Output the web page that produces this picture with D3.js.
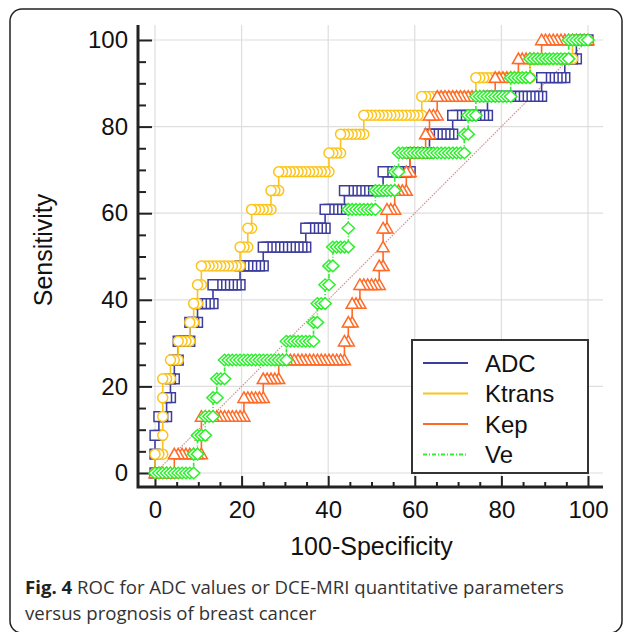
<!DOCTYPE html>
<html>
<head>
<meta charset="utf-8">
<script src="https://cdn.jsdelivr.net/npm/d3@7"></script>
<style>
  body { margin: 0; background: #fff; }
  svg { display: block; }
</style>
</head>
<body>
<div id="chart"></div>
<script>
// sensitivity steps (23 positive cases)
const sensitivity = [0, 4.35, 8.70, 13.04, 17.39, 21.74, 26.09, 30.43, 34.78, 39.13, 43.48, 47.83,
  52.17, 56.52, 60.87, 65.22, 69.57, 73.91, 78.26, 82.61, 86.96, 91.30, 95.65, 100];

// 100-specificity where each sensitivity step is reached
const adcX    = [0, 0, 0, 1.0, 2.9, 3.8, 4.8, 5.7, 7.6, 9.5, 13.8, 19.5, 24.8, 35.2, 39.0, 43.8, 52.4, 59.0, 63.8, 68.6, 77.1, 89.5, 94.3, 97.1];
const ktransX = [0, 0, 1.9, 1.9, 1.9, 1.9, 3.8, 5.7, 7.6, 8.6, 9.5, 10.5, 19.6, 21.0, 21.9, 26.7, 28.6, 40.0, 42.9, 48.6, 61.9, 74.3, 86.7, 96.2];
const kepX    = [0, 4.3, 10.5, 10.5, 20.2, 24.8, 28.6, 43.8, 44.8, 45.7, 47.6, 51.4, 52.4, 52.4, 53.3, 55.2, 58.1, 59.0, 62.9, 63.8, 64.8, 79.0, 84.0, 89.5];
const veX     = [0, 8.6, 9.5, 11.4, 13.3, 14.3, 16.2, 30.5, 36.2, 37.1, 39.0, 40.0, 41.0, 44.8, 44.8, 50.5, 55.2, 56.2, 71.4, 72.4, 74.3, 81.9, 86.7, 95.2];
const negatives = 112;

const seriesNames = ["ADC", "Ktrans", "Kep", "Ve"];
const xTicks = [0, 20, 40, 60, 80, 100];
const yTicks = [0, 20, 40, 60, 80, 100];

const width = 627, height = 632;
const svg = d3.select("#chart").append("svg")
  .attr("width", width)
  .attr("height", height);

// outer rounded frame
svg.append("rect")
  .attr("x", 10).attr("y", 9)
  .attr("width", 612).attr("height", 624)
  .attr("rx", 12)
  .attr("fill", "none")
  .attr("stroke", "#222")
  .attr("stroke-width", 1.5);

const plotLeft = 138, plotRight = 603, plotTop = 25, plotBottom = 487;
const x = d3.scaleLinear().domain([0, 100]).range([155, 588]);
const y = d3.scaleLinear().domain([0, 100]).range([473, 40]);

const font = "Arial, 'Liberation Sans', Helvetica, sans-serif";

// grid
const grid = svg.append("g").attr("stroke", "#dedede").attr("stroke-width", 1.2);
grid.selectAll(".gv").data(xTicks).join("line")
  .attr("x1", d => x(d)).attr("x2", d => x(d))
  .attr("y1", plotTop).attr("y2", plotBottom);
grid.selectAll(".gh").data(yTicks).join("line")
  .attr("x1", plotLeft).attr("x2", plotRight)
  .attr("y1", d => y(d)).attr("y2", d => y(d));

// reference diagonal
svg.append("line")
  .attr("x1", x(0)).attr("y1", y(0))
  .attr("x2", x(100)).attr("y2", y(100))
  .attr("stroke", "#d08a8a")
  .attr("stroke-width", 1.1)
  .attr("stroke-dasharray", "1.5,1.2");

// axes
const minorY = y.ticks(20).filter(d => d % 20 !== 0);
const minorX = x.ticks(20).filter(d => d % 20 !== 0);

const yMinorG = svg.append("g").attr("transform", `translate(${plotLeft},0)`)
  .call(d3.axisLeft(y).tickValues(minorY).tickSize(-8).tickFormat(""));
const yMajorG = svg.append("g").attr("transform", `translate(${plotLeft},0)`)
  .call(d3.axisLeft(y).tickValues(yTicks).tickSize(-14).tickPadding(10));
const xMinorG = svg.append("g").attr("transform", `translate(0,${plotBottom})`)
  .call(d3.axisBottom(x).tickValues(minorX).tickSize(-5).tickFormat(""));
const xMajorG = svg.append("g").attr("transform", `translate(0,${plotBottom})`)
  .call(d3.axisBottom(x).tickValues(xTicks).tickSize(-11).tickPadding(14));

[yMinorG, yMajorG, xMinorG, xMajorG].forEach(g => {
  g.attr("font-family", font);
  g.select(".domain").remove();
  g.selectAll(".tick line").attr("stroke", "#222").attr("stroke-width", 2);
  g.selectAll(".tick text")
    .attr("font-size", 24)
    .attr("fill", "#111");
});

svg.append("path")
  .attr("d", `M${plotLeft},${plotTop}V${plotBottom}H${plotRight}`)
  .attr("fill", "none")
  .attr("stroke", "#222")
  .attr("stroke-width", 3);

// axis titles
svg.append("text")
  .attr("x", x(50)).attr("y", 555)
  .attr("text-anchor", "middle")
  .attr("font-family", font)
  .attr("font-size", 25)
  .attr("fill", "#111")
  .text("100-Specificity");

svg.append("text")
  .attr("transform", "translate(52,250) rotate(-90)")
  .attr("text-anchor", "middle")
  .attr("font-family", font)
  .attr("font-size", 25)
  .attr("fill", "#111")
  .text("Sensitivity");

// ROC series
const step = 100 / negatives;
const shapes = {
  square: "M-4.9,-4.9h9.8v9.8h-9.8Z",
  circle: d3.symbol(d3.symbolCircle, Math.PI * 5 * 5)(),
  triangle: "M0,-5.8L6,4.7H-6Z",
  diamond: "M0,-5.8L6.2,0L0,5.8L-6.2,0Z"
};

const series = [
  { name: seriesNames[0], xs: adcX,    color: "#3d3d9e", shape: "square",   dash: null,      leftOnTop: true },
  { name: seriesNames[1], xs: ktransX, color: "#fcc419", shape: "circle",   dash: null,      leftOnTop: true },
  { name: seriesNames[2], xs: kepX,    color: "#ff6a26", shape: "triangle", dash: null,      leftOnTop: true },
  { name: seriesNames[3], xs: veX,     color: "#2cf02c", shape: "diamond",  dash: "4,2,1,2", leftOnTop: false }
];

const line = d3.line().x(d => x(d[0])).y(d => y(d[1]));

series.forEach(s => {
  const runs = s.xs.map((x0, k) => ({
    i0: Math.round(x0 / step),
    i1: Math.round((k < s.xs.length - 1 ? s.xs[k + 1] : 100) / step),
    sens: sensitivity[k]
  }));

  const pts = [];
  runs.forEach(r => {
    pts.push([r.i0 * step, r.sens]);
    pts.push([r.i1 * step, r.sens]);
  });

  const marks = [];
  runs.forEach(r => {
    for (let i = r.i0; i <= r.i1; i++) marks.push([i * step, r.sens]);
  });
  if (s.leftOnTop) marks.reverse();

  const g = svg.append("g");
  g.append("path")
    .attr("d", line(pts))
    .attr("fill", "none")
    .attr("stroke", s.color)
    .attr("stroke-width", 1.6)
    .attr("stroke-dasharray", s.dash);

  g.selectAll("path.mark").data(marks).join("path")
    .attr("class", "mark")
    .attr("transform", d => `translate(${x(d[0])},${y(d[1])})`)
    .attr("d", shapes[s.shape])
    .attr("fill", "#fff")
    .attr("stroke", s.color)
    .attr("stroke-width", 1.5);
});

// legend
const legend = svg.append("g");
legend.append("rect")
  .attr("x", 412).attr("y", 340)
  .attr("width", 176).attr("height", 133)
  .attr("fill", "#fff")
  .attr("stroke", "#333")
  .attr("stroke-width", 2);

const rows = legend.selectAll("g.row").data(series).join("g")
  .attr("class", "row")
  .attr("transform", (d, i) => `translate(0,${363 + i * 30.5})`);
rows.append("line")
  .attr("x1", 423).attr("x2", 468)
  .attr("stroke", d => d.color)
  .attr("stroke-width", 1.8)
  .attr("stroke-dasharray", d => d.dash);
rows.append("text")
  .attr("x", 485).attr("dy", "0.36em")
  .attr("font-family", font)
  .attr("font-size", 24)
  .attr("fill", "#111")
  .text(d => d.name);

// caption
const caption = svg.append("text")
  .attr("font-family", "'Open Sans', sans-serif")
  .attr("font-size", 18.6)
  .attr("fill", "#333");
const line1 = caption.append("tspan").attr("x", 25).attr("y", 594);
line1.append("tspan").attr("font-weight", "bold").attr("fill", "#222").text("Fig. 4");
line1.append("tspan").text(" ROC for ADC values or DCE-MRI quantitative parameters");
caption.append("tspan").attr("x", 25).attr("y", 620).text("versus prognosis of breast cancer");
</script>
</body>
</html>
